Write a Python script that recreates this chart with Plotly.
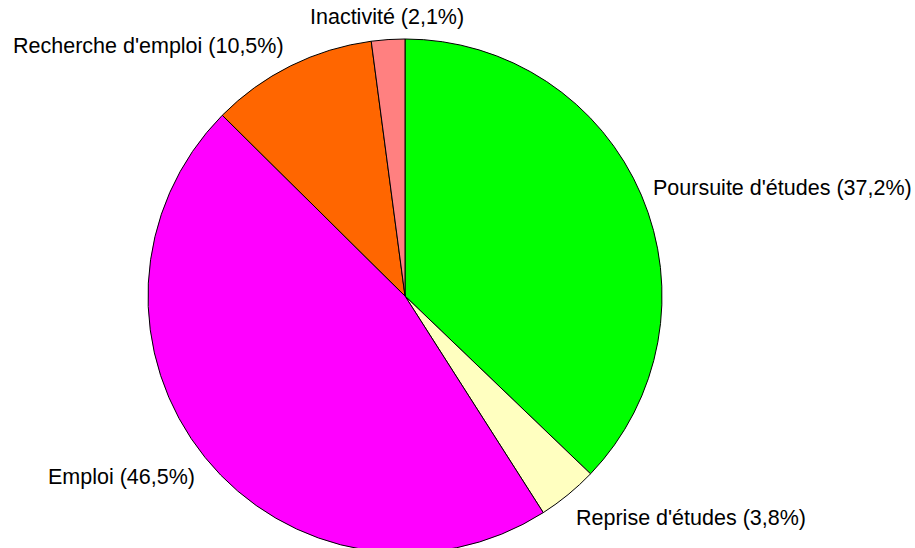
import math
import plotly.graph_objects as go

# ---- data ----
categories = ["Poursuite d'études", "Reprise d'études", "Emploi", "Recherche d'emploi", "Inactivité"]
values = [37.2, 3.8, 46.5, 10.5, 2.1]
colors = ["#00FF00", "#FFFFC0", "#FF00FF", "#FF6600", "#FF8080"]

# ---- layout geometry ----
W, H = 915, 592          # figure taller than window so the pie bottom is cut like the reference
CX, CY, R = 405, 296, 257
FONT = dict(family="Liberation Sans, Arial, sans-serif", size=21.5, color="#000000")

fig = go.Figure(go.Pie(
    labels=categories,
    values=values,
    sort=False,
    direction="clockwise",
    rotation=0,
    textinfo="none",
    hoverinfo="label+percent",
    marker=dict(colors=colors, line=dict(color="#000000", width=1)),
    domain=dict(x=[(CX - R) / W, (CX + R) / W], y=[(H - CY - R) / H, (H - CY + R) / H]),
    showlegend=False,
))

# label placement derived from slice mid-angles
total = sum(values)
cum = 0.0
annotations = []
GAP = 10
K = 16
for cat, v in zip(categories, values):
    mid = (cum + v / 2) / total
    cum += v
    th = 2 * math.pi * mid
    s, c = math.sin(th), math.cos(th)
    px = CX + (R + GAP) * s
    py = CY - (R + GAP) * c - K * c + 3
    if s > 0.2:
        xa = "left"
    elif s < -0.2:
        xa = "right"
    else:
        xa = "center"
    text = f"{cat} ({v:.1f}%)".replace(".", ",")
    annotations.append(dict(
        x=px / W, y=(H - py) / H, xref="paper", yref="paper",
        text=text, showarrow=False, xanchor=xa, yanchor="middle",
        font=FONT,
    ))

fig.update_layout(
    width=W, height=H,
    margin=dict(l=0, r=0, t=0, b=0),
    paper_bgcolor="#FFFFFF",
    plot_bgcolor="#FFFFFF",
    annotations=annotations,
    font=FONT,
)

fig.write_html(
    "out.html",
    config={"displayModeBar": False},
    post_script="document.body.style.margin='0';document.documentElement.style.overflow='hidden';document.body.style.overflow='hidden';",
)
